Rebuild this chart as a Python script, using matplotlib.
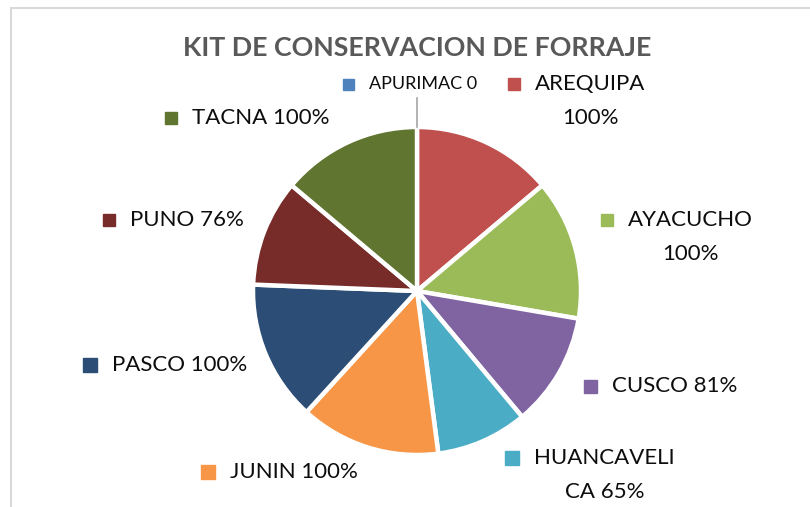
import matplotlib
matplotlib.use("Agg")
import matplotlib.pyplot as plt
from matplotlib.patches import Rectangle

# data
regions = ["APURIMAC", "AREQUIPA", "AYACUCHO", "CUSCO", "HUANCAVELICA",
           "JUNIN", "PASCO", "PUNO", "TACNA"]
values = [0, 100, 100, 81, 65, 100, 100, 76, 100]
label_texts = ["APURIMAC 0", "AREQUIPA\n100%", "AYACUCHO\n100%", "CUSCO 81%",
               "HUANCAVELI\nCA 65%", "JUNIN 100%", "PASCO 100%", "PUNO 76%",
               "TACNA 100%"]
colors = ["#4F81BD", "#C0504D", "#9BBB59", "#8064A2", "#4BACC6",
          "#F79646", "#2C4D75", "#772C2A", "#5F7530"]

W, H = 810, 507
fig = plt.figure(figsize=(8.1, 5.07), dpi=100)
ax = fig.add_axes([0, 0, 1, 1])

cx, cy, r = 417, H - 291, 164
ax.pie(values, colors=colors, startangle=90, counterclock=False,
       center=(cx, cy), radius=r, frame=True,
       wedgeprops=dict(edgecolor="white", linewidth=3.2))
ax.set_xlim(0, W)
ax.set_ylim(0, H)
ax.set_aspect("equal")
ax.axis("off")

# chart border (only top/left visible)
ax.add_patch(Rectangle((11, -20), W + 50, H - 8 + 20, fill=False,
                       edgecolor="#D9D9D9", linewidth=1.5))

fig.text(417 / W, 1 - 48 / H, "KIT DE CONSERVACION DE FORRAJE",
         ha="center", va="center", fontsize=19.3, fontweight="bold",
         color="#595959", family="Lato")

# leader line for the zero slice
ax.plot([417, 417], [H - 98, H - 127], color="#A6A6A6", linewidth=1.2)

# label layout: (marker left x, first line y, text size, marker size)
label_pos = [(343, 84, 13, 11), (508, 84, 16, 12), (601, 220, 16, 12),
             (584, 386, 16, 13), (505, 458, 16, 14), (201, 472, 16, 14),
             (83, 365, 16, 14), (103, 220, 16, 12), (165, 118, 16, 12)]

renderer = fig.canvas.get_renderer()
for txt, col, (mx, my, fs, ms) in zip(label_texts, colors, label_pos):
    ax.add_patch(Rectangle((mx, H - my - ms / 2), ms, ms, color=col))
    lines = txt.split("\n")
    tx = mx + ms + 15
    t1 = ax.text(tx, H - my, lines[0], ha="left", va="center", fontsize=fs,
                 family="Lato", color="#0D0D0D")
    if len(lines) > 1:
        bb = t1.get_window_extent(renderer)
        ax.text((bb.x0 + bb.x1) / 2, H - my - 34, lines[1], ha="center",
                va="center", fontsize=fs, family="Lato", color="#0D0D0D")

fig.savefig("out.png", dpi=100)
